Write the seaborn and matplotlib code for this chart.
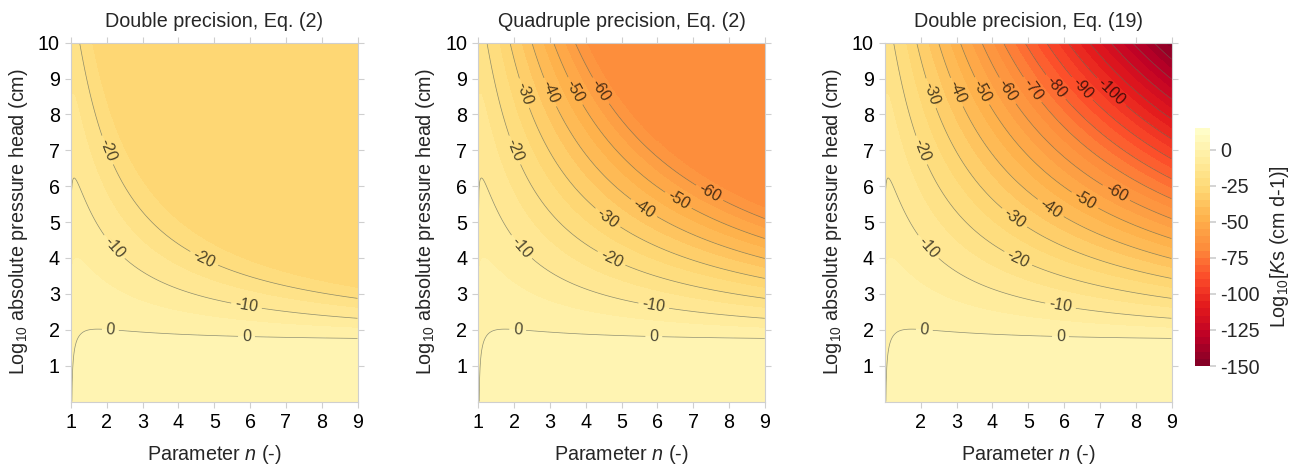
import numpy as np
import matplotlib
matplotlib.use("Agg")
import matplotlib.pyplot as plt
import seaborn as sns

# ---------------- data / model parameters ----------------
alpha = 0.0224          # 1/cm
log_Ks = 2.15           # log10 Ks (cm/d)
L_param = 0.0           # pore connectivity
n_range = [1.001, 9.0]
logh_range = [0.0, 10.0]
grid_size = 500

titles = ["Double precision, Eq. (2)", "Quadruple precision, Eq. (2)", "Double precision, Eq. (19)"]
x_ticks = [[1, 2, 3, 4, 5, 6, 7, 8, 9], [1, 2, 3, 4, 5, 6, 7, 8, 9], [2, 3, 4, 5, 6, 7, 8, 9]]
y_ticks = [1, 2, 3, 4, 5, 6, 7, 8, 9, 10]
cbar_ticks = [0, -25, -50, -75, -100, -125, -150]
fill_levels = list(range(-150, 16, 5))
line_levels = list(range(-150, 1, 10))

label_pos_1 = [(2.0, 7.0), (4.7, 3.95), (2.2, 4.3), (5.9, 2.67), (2.1, 2.0), (5.9, 1.8)]
label_pos_2 = [(2.3, 8.6), (3.0, 8.62), (3.7, 8.65), (4.4, 8.65), (2.0, 7.0), (2.2, 4.3),
               (2.1, 2.0), (4.7, 3.95), (4.6, 5.1), (5.6, 5.35), (6.55, 5.55), (7.45, 5.8),
               (5.9, 2.67), (5.9, 1.8)]
label_pos_3 = label_pos_2 + [(5.1, 8.68), (5.75, 8.75), (6.5, 8.72), (7.33, 8.64)]
label_positions = [label_pos_1, label_pos_2, label_pos_3]

# ---------------- compute fields ----------------
n_vals = np.linspace(n_range[0], n_range[1], grid_size)
logh_vals = np.linspace(logh_range[0], logh_range[1], grid_size)
N, LH = np.meshgrid(n_vals, logh_vals)
H = 10.0 ** LH
M = 1.0 - 1.0 / N

with np.errstate(all="ignore"):
    # Eq. (2), double precision, naive
    Se_d = (1.0 + (alpha * H) ** N) ** (-M)
    inner_d = 1.0 - (1.0 - Se_d ** (1.0 / M)) ** M
    Z1 = log_Ks + L_param * np.log10(Se_d) + 2.0 * np.log10(inner_d)

    # stable evaluation (Eq. 19)
    ln_y = -np.logaddexp(0.0, N * np.log(alpha * H))
    y = np.exp(ln_y)
    inner_s = -np.expm1(M * np.log1p(-y))
    Z3 = log_Ks + L_param * (M * ln_y) / np.log(10) + 2.0 * np.log10(inner_s)

    # Eq. (2) quadruple precision (emulated rounding, unit 2^-113)
    u = 2.0 ** -113
    k1 = np.round(y / u)
    k2 = np.round(M * k1)
    inner_q = np.where(y < 1e-14, k2 * u, inner_s)
    Z2 = log_Ks + L_param * (M * ln_y) / np.log(10) + 2.0 * np.log10(inner_q)

def floor_inf(Z):
    Z = Z.copy()
    fin = np.isfinite(Z)
    Z[~fin] = Z[fin].min()
    return Z

fields = [floor_inf(Z1), floor_inf(Z2), Z3]

# ---------------- plotting ----------------
sns.set_theme(style="white")
plt.rcParams["font.family"] = ["Liberation Sans", "DejaVu Sans"]
plt.rcParams["mathtext.fontset"] = "custom"
plt.rcParams["mathtext.rm"] = "Liberation Sans"
plt.rcParams["mathtext.it"] = "Liberation Sans:italic"
plt.rcParams["axes.unicode_minus"] = False
plt.rcParams["contour.negative_linestyle"] = "solid"

FS = 14.2
W, Hpx = 1293, 465
fig = plt.figure(figsize=(W / 100, Hpx / 100), dpi=100)
lefts = [71, 478.3, 885]
ax_w = 286.5
ax_top, ax_bot = 42.7, 401.5
cmap = plt.get_cmap("YlOrRd_r")
grid_col = "#cfcfcf"

cf_last = None
for i, (Z, title) in enumerate(zip(fields, titles)):
    ax = fig.add_axes([lefts[i] / W, (Hpx - ax_bot) / Hpx, ax_w / W, (ax_bot - ax_top) / Hpx])
    Zf = np.clip(Z, -150, 15)
    cf = ax.contourf(N, LH, Zf, levels=fill_levels, cmap=cmap, vmin=-150, vmax=15)
    cf_last = cf
    cl = ax.contour(N, LH, Z, levels=line_levels, colors="#5f6354", linewidths=0.5,
                    alpha=0.7, linestyles="solid")
    ax.clabel(cl, manual=label_positions[i], fmt="%d", fontsize=11.5, inline=True,
              inline_spacing=4, colors="black")
    ax.set_xlim(1, 9)
    ax.set_ylim(0, 10)
    ax.set_xticks(x_ticks[i])
    ax.set_yticks(y_ticks)
    ax.tick_params(axis="both", which="both", direction="out", length=4, width=0.8,
                   color=grid_col, labelsize=FS, labelcolor="black",
                   top=True, right=True, bottom=True, left=True, pad=4)
    for s in ax.spines.values():
        s.set_color(grid_col)
        s.set_linewidth(0.8)
    ax.set_title(title, fontsize=FS, pad=11)
    ax.set_xlabel("Parameter $\\mathit{n}$ (-)", fontsize=FS, labelpad=8)
    ax.set_ylabel("Log$_{10}$ absolute pressure head (cm)", fontsize=FS, labelpad=6)

cax = fig.add_axes([1195 / W, (Hpx - 366) / Hpx, 15 / W, 238 / Hpx])
cb = fig.colorbar(cf_last, cax=cax, ticks=cbar_ticks)
cb.outline.set_visible(False)
cb.ax.tick_params(labelsize=FS, length=4, color=grid_col, direction="out")
cb.set_label("Log$_{10}$[$\\mathit{K}$s (cm d-1)]", fontsize=FS, labelpad=6)

fig.savefig("out.png", dpi=100)
